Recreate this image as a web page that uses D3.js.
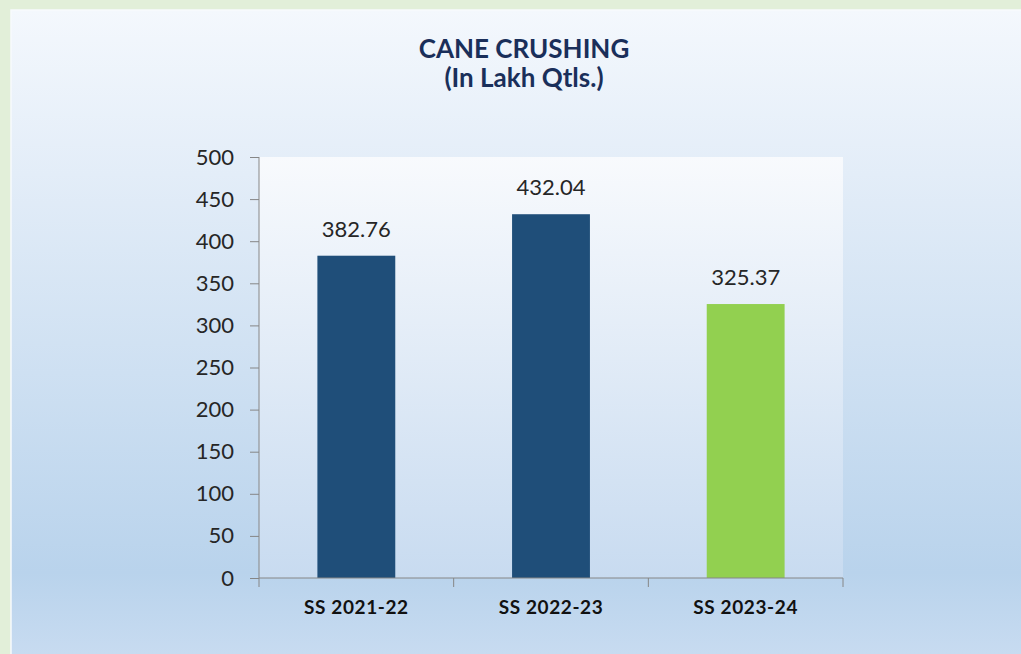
<!DOCTYPE html>
<html>
<head>
<meta charset="utf-8">
<script src="https://cdn.jsdelivr.net/npm/d3@7"></script>
<style>
  body { margin: 0; background: #e2efd9; overflow: hidden; }
  svg { display: block; }
</style>
</head>
<body>
<script>
// chart data
var categories = ["SS 2021-22", "SS 2022-23", "SS 2023-24"];
var crushing = [382.76, 432.04, 325.37];
var barColors = ["#1f4e79", "#1f4e79", "#92d050"];
var yTicks = [0, 50, 100, 150, 200, 250, 300, 350, 400, 450, 500];
var titleLines = ["CANE CRUSHING", "(In Lakh Qtls.)"];

var w = 1021, h = 654;
var plot = {left: 259, right: 843, top: 157, bottom: 578};

var svg = d3.select("body").append("svg")
    .attr("width", w)
    .attr("height", h);

var defs = svg.append("defs");

// outer panel gradient
var bg = defs.append("linearGradient").attr("id", "bgGrad")
    .attr("x1", 0).attr("y1", 0).attr("x2", 0).attr("y2", 1);
bg.append("stop").attr("offset", "0%").attr("stop-color", "#f4f8fd");
bg.append("stop").attr("offset", "25%").attr("stop-color", "#e3edf8");
bg.append("stop").attr("offset", "86%").attr("stop-color", "#b9d3ec");
bg.append("stop").attr("offset", "100%").attr("stop-color", "#c9dcf1");

// plot area gradient
var pg = defs.append("linearGradient").attr("id", "plotGrad")
    .attr("x1", 0).attr("y1", 0).attr("x2", 0).attr("y2", 1);
pg.append("stop").attr("offset", "0%").attr("stop-color", "#f8fafd");
pg.append("stop").attr("offset", "100%").attr("stop-color", "#c8dbf0");

svg.append("rect")
    .attr("x", 11).attr("y", 10)
    .attr("width", w).attr("height", h)
    .style("fill", "url(#bgGrad)")
    .style("stroke", "#f7fafd")
    .style("stroke-width", 1.5);

svg.append("rect")
    .attr("x", plot.left).attr("y", plot.top)
    .attr("width", plot.right - plot.left)
    .attr("height", plot.bottom - plot.top)
    .style("fill", "url(#plotGrad)");

// title
svg.append("text")
    .attr("x", 524).attr("y", 58)
    .attr("text-anchor", "middle")
    .style("font-family", "Lato, 'Open Sans', sans-serif")
    .style("font-weight", "bold")
    .style("font-size", "26px")
    .style("fill", "#1a2f5a")
    .selectAll("tspan")
    .data(titleLines)
    .enter()
    .append("tspan")
    .attr("x", 524)
    .attr("dy", function(d, i){ return i === 0 ? 0 : 29; })
    .text(function(d){ return d; });

// scales
var x = d3.scaleBand()
    .domain(categories)
    .range([plot.left, plot.right])
    .paddingInner(0.6)
    .paddingOuter(0.3);

var xEdge = d3.scaleLinear()
    .domain([0, categories.length])
    .range([plot.left, plot.right]);

var y = d3.scaleLinear()
    .domain([0, 500])
    .range([plot.bottom, plot.top]);

// bars
svg.selectAll(".bar")
    .data(crushing)
    .enter()
    .append("rect")
    .attr("class", "bar")
    .attr("x", function(d, i){ return x(categories[i]); })
    .attr("y", function(d){ return y(d); })
    .attr("width", x.bandwidth())
    .attr("height", function(d){ return y(0) - y(d); })
    .style("fill", function(d, i){ return barColors[i]; });

// value labels
svg.selectAll(".val")
    .data(crushing)
    .enter()
    .append("text")
    .attr("class", "val")
    .attr("x", function(d, i){ return x(categories[i]) + x.bandwidth() / 2; })
    .attr("y", function(d){ return y(d) - 19; })
    .attr("text-anchor", "middle")
    .style("font-family", "Lato, 'Open Sans', sans-serif")
    .style("font-size", "22px")
    .style("fill", "#262626")
    .text(function(d){ return d.toFixed(2); });

// y axis
var yAxis = svg.append("g")
    .attr("transform", "translate(" + plot.left + ",0)")
    .call(d3.axisLeft(y).tickValues(yTicks).tickSize(9).tickPadding(16));
yAxis.select(".domain").attr("stroke", "#868686").attr("d", "M0," + plot.top + "V" + plot.bottom);
yAxis.selectAll(".tick line").attr("stroke", "#868686");
yAxis.selectAll(".tick text")
    .style("font-family", "Lato, 'Open Sans', sans-serif")
    .style("font-size", "22px")
    .style("fill", "#262626");

// x axis
var xAxis = svg.append("g")
    .attr("transform", "translate(0," + plot.bottom + ")")
    .call(d3.axisBottom(x).tickSize(0).tickPadding(23));
xAxis.select(".domain").attr("stroke", "#868686").attr("d", "M" + plot.left + ",0H" + plot.right);
xAxis.selectAll(".tick text")
    .style("font-family", "Lato, 'Open Sans', sans-serif")
    .style("font-weight", "bold")
    .style("font-size", "19px")
    .style("letter-spacing", "0.6px")
    .style("fill", "#111");

// category separator ticks
xAxis.selectAll(".sep")
    .data(d3.range(categories.length + 1))
    .enter()
    .append("line")
    .attr("class", "sep")
    .attr("x1", function(d){ return xEdge(d); })
    .attr("x2", function(d){ return xEdge(d); })
    .attr("y1", 0)
    .attr("y2", 9)
    .attr("stroke", "#868686");
</script>
</body>
</html>
